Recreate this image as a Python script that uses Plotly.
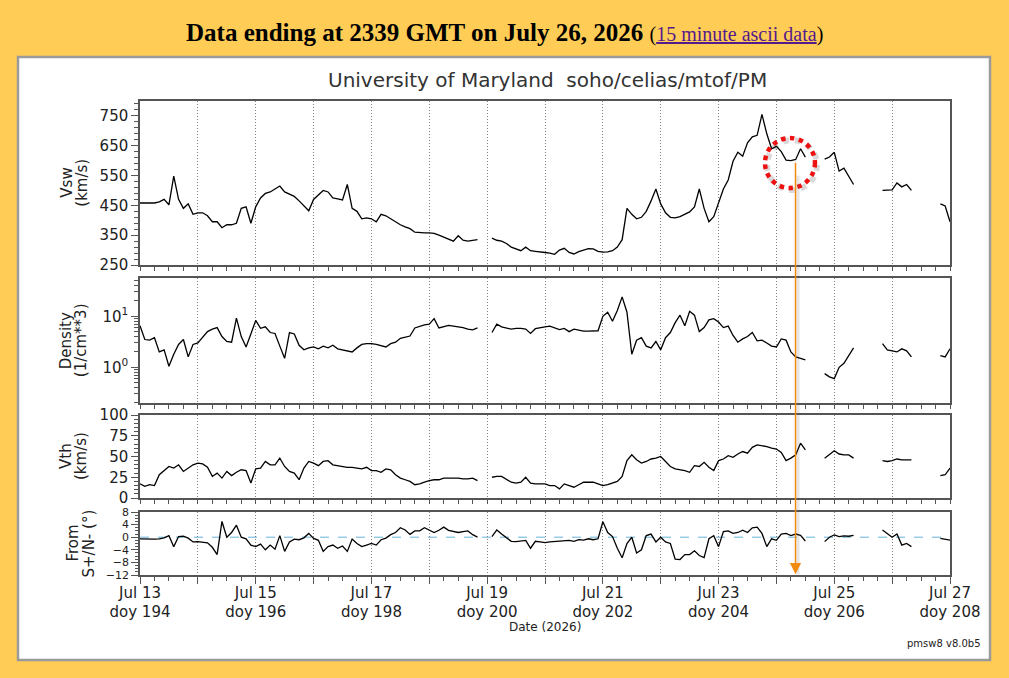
import numpy as np
import plotly.graph_objects as go

# 2-hour samples, doy 194.0 .. 208.0 (None = data gap)
vsw = [
    458, 458, 458, 458, 462, 470, 452, 548, 470, 440, 455, 420,   # doy 194
    425, 425, 415, 395, 395, 375, 385, 385, 390, 440, 445, 390,   # 195
    445, 475, 490, 495, 505, 515, 495, 488, 480, 465, 450, 432,   # 196
    470, 485, 500, 495, 475, 472, 468, 520, 440, 430, 405, 408,   # 197
    405, 395, 420, 415, 405, 395, 385, 378, 372, 360, 358, 358,   # 198
    358, 356, 350, 343, 335, 330, 348, 333, 330, 332, 335, None,  # 199
    None, 340, 333, 330, 322, 310, 305, 298, 310, 298, 296, 295,  # 200
    292, 290, 286, 300, 306, 292, 287, 295, 300, 305, 304, 296,   # 201
    293, 294, 298, 310, 335, 440, 420, 405, 410, 430, 465, 505,   # 202
    455, 425, 410, 408, 412, 420, 428, 445, 505, 440, 395, 412,   # 203
    455, 505, 535, 598, 628, 615, 660, 680, 685, 755, 690, 640,   # 204
    648, 630, 602, 600, 604, 640, 612, None, None, None, 605, 612,  # 205
    628, 565, 575, 548, 520, None, None, None, None, None, 500, 502,  # 206
    502, 525, 512, 520, 500, None, None, None, None, None, 455, 448,  # 207
    395,
]

density = [
    6.5, 3.5, 3.4, 3.8, 2.0, 2.2, 1.05, 1.8, 2.8, 3.5, 1.6, 2.8,
    3.0, 3.9, 5.0, 5.6, 6.0, 4.0, 3.2, 3.1, 9.2, 4.0, 2.5, 4.5,
    8.3, 5.8, 6.2, 4.8, 4.6, 2.6, 1.5, 4.8, 4.5, 2.7, 2.2, 2.4,
    2.5, 2.3, 2.6, 2.4, 2.7, 2.3, 2.2, 2.1, 2.0, 2.4, 2.8, 2.9,
    2.9, 2.8, 2.6, 2.5, 2.9, 3.1, 3.7, 3.9, 4.1, 5.9, 6.3, 6.8,
    7.0, 9.0, 5.9, 6.3, 6.6, 6.4, 6.2, 6.0, 5.6, 5.4, 5.9, None,
    None, 4.8, 7.0, 6.2, 5.8, 5.6, 5.8, 5.8, 5.6, 4.6, 5.7, 6.0,
    6.2, 6.4, 5.9, 5.5, 5.8, 5.0, 5.6, 5.4, 5.1, 5.1, 5.1, 5.2,
    10, 12, 8.0, 13, 24, 12, 1.8, 3.4, 3.8, 2.6, 2.4, 3.2,
    2.2, 3.8, 4.8, 7.5, 10.5, 6.5, 12.5, 10.5, 5.0, 6.0, 8.5, 9.0,
    7.7, 6.0, 6.4, 4.2, 3.1, 3.6, 4.0, 4.8, 3.3, 3.4, 3.0, 2.6,
    2.5, 3.6, 3.4, 2.0, 1.6, 1.5, 1.4, None, None, None, 0.75, 0.65,
    0.6, 1.0, 1.2, 1.7, 2.4, None, None, None, None, None, 2.9, 2.2,
    2.1, 2.0, 2.3, 2.1, 1.6, None, None, None, None, None, 1.7, 1.6,
    2.3,
]

vth = [
    17, 14, 16, 15, 28, 33, 38, 36, 40, 32, 36, 40,
    42, 41, 37, 26, 30, 24, 32, 27, 31, 34, 33, 18,
    35, 36, 44, 40, 40, 48, 38, 32, 30, 22, 36, 44,
    42, 39, 44, 45, 40, 39, 38, 37, 37, 36, 35, 37,
    33, 33, 31, 35, 34, 28, 24, 22, 20, 16, 17, 19,
    21, 22, 22, 24, 24, 24, 24, 23, 23, 24, 21, None,
    None, 25, 26, 26, 22, 19, 18, 19, 25, 18, 17, 17,
    17, 15, 15, 11, 17, 15, 13, 16, 19, 19, 19, 17,
    15, 16, 18, 20, 26, 45, 52, 46, 42, 44, 47, 48,
    50, 44, 38, 35, 34, 33, 31, 39, 38, 43, 37, 33,
    45, 47, 51, 49, 53, 56, 54, 61, 64, 63, 62, 60,
    59, 55, 45, 48, 52, 66, 58, None, None, None, 48, 53,
    57, 53, 52, 52, 48, None, None, None, None, None, 45, 44,
    45, 47, 46, 46, 46, None, None, None, None, None, 27, 28,
    36,
]

angle = [
    -0.5, -0.6, -0.7, -0.6, -0.5, -0.2, 0.5, -3.0, 0.2, 0.3, -0.3, -1.5,
    -1.4, -1.6, -1.8, -3.2, -5.5, 5.0, 0.0, 1.5, 3.8, 0.0, -0.5, -2.5,
    -3.0, -2.2, -4.0, -2.5, -3.8, 0.5, -4.5, -1.5, -0.6, -0.8, -0.2, 1.2,
    -0.4, -1.0, -4.5, -3.0, -2.5, -3.5, -2.8, -4.5, -0.6, -2.0, -3.0, -2.5,
    -2.0, -2.5, -0.8, -0.3, 0.8, 1.5, 3.0, 2.3, 0.9, 2.0, 2.0, 3.0,
    2.3, 1.5, 2.2, 3.2, 2.2, 1.8, 1.5, 1.8, 2.0, 0.8, 0.0, None,
    None, 0.2, 2.3, 1.0, -0.3, -1.3, -1.4, -1.2, -1.0, -3.5, -1.3, -1.5,
    -1.7, -1.5, -1.4, -1.3, -1.2, -1.0, -1.3, -0.8, -0.9, -0.5, -0.8, -0.5,
    4.9, 1.5, 0.2, -3.5, -6.5, -2.0, 0.0, -5.0, -4.0, 0.5, 1.0, -1.5,
    0.0, -1.5, -2.0, -7.0, -7.1, -5.5, -5.5, -4.3, -5.8, -6.5, -0.5, 0.5,
    -3.0, 1.8, 2.0, 1.2, 1.5, 2.2, 1.5, 3.0, 3.2, 1.2, -3.0, -0.5,
    -1.0, 1.0, 1.2, 0.5, 1.0, 0.6, -1.2, None, None, None, -1.4, 0.0,
    0.7, 0.2, 0.4, 0.3, 0.6, None, None, None, None, None, 2.3, 1.2,
    0.0, 1.0, -2.5, -2.0, -3.0, None, None, None, None, None, -0.4, -0.6,
    -0.9,
]

doy = 194 + np.arange(len(vsw)) / 12.0

tick_doy = [194, 196, 198, 200, 202, 204, 206, 208]
tick_dates = ["Jul 13", "Jul 15", "Jul 17", "Jul 19", "Jul 21", "Jul 23", "Jul 25", "Jul 27"]

W, H = 1009, 678
FONT = "DejaVu Sans"
INK = "#222222"
FRAME = "#555555"


def px(v):
    return v / W


def py(v):
    return 1 - v / H


def label(text, x, y, size, **kw):
    # text placed by pixel position of its centre
    opts = dict(x=px(x), y=py(y), xref="paper", yref="paper", showarrow=False,
                xanchor="center", yanchor="middle", text=text,
                font=dict(family=FONT, size=size, color=INK))
    opts.update(kw)
    fig.add_annotation(**opts)


day_vals = list(range(194, 209))
day_text = []
for d in day_vals:
    if d in tick_doy:
        day_text.append(tick_dates[tick_doy.index(d)] + "<br>doy " + str(d))
    else:
        day_text.append("")

fig = go.Figure()
series = [vsw, density, vth, angle]
for i, s in enumerate(series):
    n = "" if i == 0 else str(i + 1)
    fig.add_trace(go.Scatter(x=doy, y=s, mode="lines", xaxis="x" + n, yaxis="y" + n,
                             line=dict(color="black", width=1.3), connectgaps=False,
                             showlegend=False, hoverinfo="skip"))

# panel pixel boxes (top, bottom)
panels = [(101, 265), (278, 403), (415, 498), (512, 575)]

layout = dict(
    width=W, height=H,
    margin=dict(l=0, r=0, t=0, b=0),
    paper_bgcolor="#ffcc55",
    plot_bgcolor="#e0ffff",
    font=dict(family=FONT, color=INK, size=15),
    showlegend=False,
)

for i, (top, bot) in enumerate(panels):
    n = "" if i == 0 else str(i + 1)
    last = i == len(panels) - 1
    layout["xaxis" + n] = dict(
        domain=[px(140), px(950)], range=[194, 208], anchor="y" + n,
        tickmode="array", tickvals=day_vals,
        ticktext=day_text if last else [""] * len(day_vals),
        showticklabels=last, ticks="outside", ticklen=7, tickcolor=FRAME,
        showline=True, mirror=True, linecolor=FRAME, linewidth=1.5,
        showgrid=True, gridcolor="#808080", griddash="1px,2px", gridwidth=1,
        zeroline=False, automargin=False, ticklabelstandoff=-4,
        tickfont=dict(size=15, family=FONT, color=INK),
        minor=dict(tick0=194, dtick=0.25, ticks="outside", ticklen=4,
                   tickcolor=FRAME, showgrid=False),
    )
    layout["yaxis" + n] = dict(
        domain=[py(bot), py(top)], anchor="x" + n,
        ticks="outside", ticklen=7, tickcolor=FRAME,
        showline=True, mirror=True, linecolor=FRAME, linewidth=1.5,
        showgrid=False, zeroline=False, automargin=False,
        tickfont=dict(size=15, family=FONT, color=INK),
    )

layout["yaxis"].update(range=[250, 800], tickvals=[250, 350, 450, 550, 650, 750],
                       minor=dict(tick0=250, dtick=20, ticks="outside", ticklen=4, tickcolor=FRAME))
minor_log = [0.2, 0.3, 0.4, 0.5, 0.6, 0.7, 0.8, 0.9, 2, 3, 4, 5, 6, 7, 8, 9, 20, 30, 40, 50]
layout["yaxis2"].update(type="log", range=[-0.7, 1.75], tickvals=[1, 10],
                        ticktext=["10<sup>0</sup>", "10<sup>1</sup>"],
                        minor=dict(tickmode="array", tickvals=minor_log, ticks="outside",
                                   ticklen=4, tickcolor=FRAME))
layout["yaxis3"].update(range=[0, 100], tickvals=[0, 25, 50, 75, 100],
                        minor=dict(tick0=0, dtick=5, ticks="outside", ticklen=4, tickcolor=FRAME))
layout["yaxis4"].update(range=[-12, 8], tickvals=[-12, -8, -4, 0, 4, 8],
                        tickfont=dict(size=11, family=FONT, color=INK),
                        minor=dict(tick0=0, dtick=1, ticks="outside", ticklen=3, tickcolor=FRAME))

fig.update_layout(**layout)

# white frame of the figure
fig.add_shape(type="rect", xref="paper", yref="paper", x0=px(18), x1=px(990),
              y0=py(660), y1=py(57), fillcolor="white", line=dict(color="#9a9a9a", width=2.5),
              layer="below")
# zero line in bottom panel
fig.add_shape(type="line", xref="x4", yref="y4", x0=194, x1=208, y0=0, y1=0,
              line=dict(color="#66b3d9", width=1, dash="dash"), layer="below")
# highlight circle
for dx, col, w in [(2, "rgba(0,0,0,0.15)", 6), (0, "#ee1111", 4.5)]:
    fig.add_shape(type="circle", xref="x", yref="y", xsizemode="pixel", ysizemode="pixel",
                  xanchor=205.234, yanchor=592, x0=-25 + dx, x1=25 + dx, y0=-25 - dx, y1=25 - dx,
                  line=dict(color=col, width=w, dash="dot"))

# pointer line with arrow
fig.add_annotation(x=205.33, y=-11.8, xref="x4", yref="y4", text="", showarrow=True,
                   ax=0, ay=-400, arrowhead=0, arrowwidth=3, xshift=2.5,
                   arrowcolor="rgba(90,90,90,0.15)")
fig.add_annotation(x=205.33, y=-11.8, xref="x4", yref="y4", text="", showarrow=True,
                   ax=0, ay=-413, arrowhead=2, arrowsize=1.5, arrowwidth=1.5,
                   arrowcolor="#f08a10")

# texts
label("<b>Data ending at 2339 GMT on July 26, 2026</b> "
      "<span style='font-size:20px'>(<span style='color:#551a8b'>"
      "<u>15 minute ascii data</u></span>)</span>",
      504, 33, 25, font=dict(family="Liberation Serif", size=25, color="black"))
label("University of Maryland\u00a0 soho/celias/mtof/PM", 547, 80, 20,
      font=dict(family=FONT, size=20, color="#333333"))

ylabels = [("Vsw", "(km/s)", 66.7, 81.7), ("Density", "(1/cm**3)", 66.7, 81.7),
           ("Vth", "(km/s)", 65.5, 80.5), ("From", "S+/N- (°)", 72, 88)]
for (l1, l2, x1, x2), (top, bot) in zip(ylabels, panels):
    yc = (top + bot) / 2
    label(l1, x1, yc, 15, textangle=-90)
    label(l2, x2, yc, 15, textangle=-90)

label("Date (2026)", 545, 627, 12)
label("pmsw8 v8.0b5", 983, 643, 10, xanchor="right")

fig.write_html("out.html", config={"displayModeBar": False},
               post_script="document.body.style.margin='0px';")
